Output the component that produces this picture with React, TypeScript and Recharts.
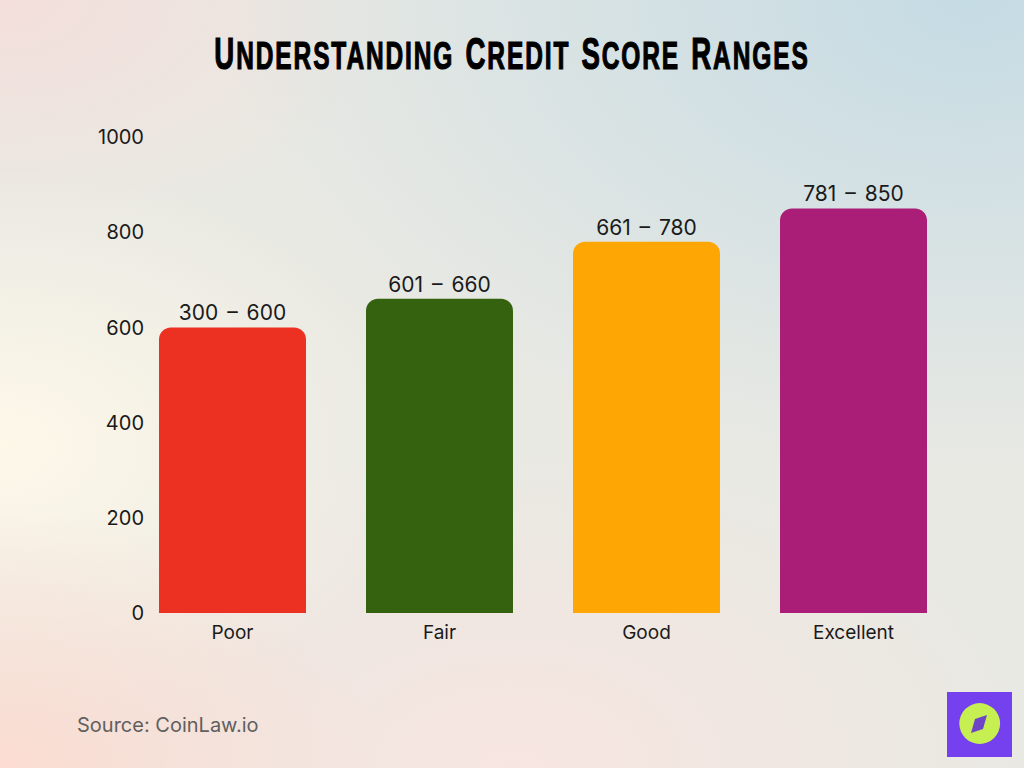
import { BarChart, Bar, Cell, LabelList, XAxis, YAxis } from 'recharts';

const CATEGORIES = ['Poor', 'Fair', 'Good', 'Excellent'];
const UPPER_SCORES = [600, 660, 780, 850];
const RANGE_LABELS = ['300 – 600', '601 – 660', '661 – 780', '781 – 850'];
const BAR_COLORS = ['#ec3022', '#34620f', '#fea604', '#ab1e78'];
const Y_TICKS = [0, 200, 400, 600, 800, 1000];
const TITLE_WORDS = ['Understanding', 'Credit', 'Score', 'Ranges'];

const FONT = 'Inter, "Open Sans", sans-serif';

const data = CATEGORIES.map((name, i) => ({
    name,
    score: UPPER_SCORES[i],
    range: RANGE_LABELS[i],
}));

export default function App() {
    return (
        <div
            style={{
                position: 'fixed',
                left: 0,
                top: 0,
                width: 1024,
                height: 768,
                overflow: 'hidden',
                backgroundColor: '#e9e9e3',
                backgroundImage: [
                    'radial-gradient(ellipse 760px 480px at 95% 0%, #c5dbe4 0%, rgba(197,219,228,0) 100%)',
                    'radial-gradient(ellipse 380px 260px at 0% 100%, #fcdcd1 0%, rgba(252,220,209,0) 100%)',
                    'radial-gradient(ellipse 420px 280px at 0% 58%, #fef8e9 0%, rgba(254,248,233,0) 100%)',
                    'radial-gradient(ellipse 400px 230px at 0% 0%, #f4dfdb 0%, rgba(244,223,219,0) 100%)',
                    'radial-gradient(ellipse 520px 320px at 50% 100%, #f7e5e0 0%, rgba(247,229,224,0) 100%)',
                ].join(', '),
            }}
        >
            <div
                style={{
                    position: 'absolute',
                    left: 0,
                    top: 26,
                    width: 1024,
                    textAlign: 'center',
                    whiteSpace: 'nowrap',
                    transform: 'scaleX(0.628)',
                    fontFamily: '"Liberation Sans", sans-serif',
                    fontWeight: 700,
                    fontSize: 39,
                    lineHeight: '56px',
                    textTransform: 'uppercase',
                    letterSpacing: 3,
                    wordSpacing: 4,
                    color: '#000',
                    WebkitTextStroke: '1.2px #000',
                }}
            >
                {TITLE_WORDS.map((word, i) => (
                    <span key={word}>
                        <span style={{ fontSize: 44 }}>{word[0]}</span>
                        {word.slice(1)}
                        {i < TITLE_WORDS.length - 1 ? ' ' : ''}
                    </span>
                ))}
            </div>

            <BarChart
                width={1024}
                height={768}
                data={data}
                margin={{ top: 137, right: 67, bottom: 100, left: 69 }}
            >
                <XAxis
                    dataKey="name"
                    axisLine={false}
                    tickLine={false}
                    height={55}
                    tickMargin={7}
                    tick={{ fill: '#1a1a1a', fontSize: 19, fontFamily: FONT }}
                />
                <YAxis
                    domain={[0, 1000]}
                    ticks={Y_TICKS}
                    axisLine={false}
                    tickLine={false}
                    width={60}
                    tick={{ fill: '#1a1a1a', fontSize: 20, fontFamily: FONT, dx: 23 }}
                />
                <Bar dataKey="score" barSize={147} radius={[12, 12, 0, 0]} isAnimationActive={false}>
                    {data.map((d, i) => (
                        <Cell key={d.name} fill={BAR_COLORS[i]} />
                    ))}
                    <LabelList
                        dataKey="range"
                        position="top"
                        offset={7}
                        fill="#1a1a1a"
                        fontSize={21}
                        fontFamily={FONT}
                        style={{ wordSpacing: 3 }}
                    />
                </Bar>
            </BarChart>

            <div
                style={{
                    position: 'absolute',
                    left: 77,
                    top: 712,
                    fontFamily: FONT,
                    fontSize: 20,
                    lineHeight: '26px',
                    color: '#5f5f5f',
                }}
            >
                Source: CoinLaw.io
            </div>

            {/* logo badge */}
            <svg
                width={65}
                height={65}
                viewBox="0 0 65 65"
                style={{ position: 'absolute', left: 947, top: 692 }}
            >
                <rect width={65} height={65} fill="#7540ee" />
                <circle cx={32.7} cy={31.5} r={20.4} fill="#c6ef52" />
                <path d="M40 23 L36 37 L24 41 L28 27 Z" fill="#6f45c8" />
            </svg>
        </div>
    );
}
